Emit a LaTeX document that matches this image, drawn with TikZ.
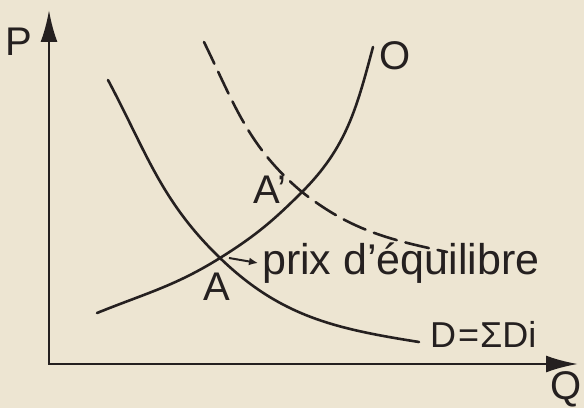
\documentclass[tikz,border=0pt]{standalone}
\usepackage{fontspec}
\setmainfont{Liberation Sans}
\usepackage{tikz}
\usetikzlibrary{arrows.meta, positioning}

\definecolor{paper}{HTML}{EDE5D2}
\definecolor{ink}{HTML}{252020}

\begin{document}
\begin{tikzpicture}[x=1pt, y=1pt, font=\fontsize{40}{44}\selectfont, color=ink]
  \tikzstyle{axis}=[line width=2.6pt, {Latex[length=32pt, width=17pt]}-{Latex[length=32pt, width=17pt]}]
  \tikzstyle{curve}=[line width=2.6pt, line cap=round]
  \tikzstyle{shifted}=[curve, dash pattern=on 24pt off 9pt]
  \tikzstyle{lbl}=[inner sep=0pt, text=ink]

  % background
  \fill[paper] (0,0) rectangle (584,408);
  \useasboundingbox (0,0) rectangle (584,408);

  % axes
  \coordinate (ytip) at (49,398);
  \coordinate (xtip) at (578,44);
  \draw[axis] (ytip) |- (xtip);
  \node[lbl] (plab) at (19,366) {P};
  \node[lbl] (qlab) at (566,19) {Q};

  % equilibrium points
  \coordinate (eqA) at (220,150);
  \coordinate (eqB) at (302,216);

  % supply O
  \coordinate (s0) at (97,95);
  \coordinate (s1) at (373,361);
  \draw[curve] (s0) to[out=22, in=212] (eqA) to[out=32, in=225] (eqB) to[out=45, in=255] (s1);
  \node[lbl] (olab) at (395,352) {O};

  % demand D
  \coordinate (d0) at (108,328);
  \coordinate (d1) at (419,66);
  \draw[curve] (d0) to[out=-62, in=136] (eqA) to[out=-44, in=171] (d1);
  \node[lbl, anchor=west, font=\fontsize{36}{40}\selectfont] (dlab) at (430,74) {D\kern2pt=\kern1ptΣDi};

  % shifted demand (dashed)
  \coordinate (e0) at (204,366);
  \coordinate (e1) at (447,156);
  \draw[shifted] (e0) to[out=-64, in=140] (eqB) to[out=-38, in=168] (e1);

  % labels
  \node[lbl] (alab) at (217,121) {A};
  \node[lbl] (blab) at (270,218) {A’};
  \node[lbl, anchor=west, font=\fontsize{43}{46}\selectfont] (prix) at (262,145) {prix d’équilibre};

  % arrow to text
  \draw[line width=2pt, -{Latex[length=9pt, width=8pt]}] ([xshift=9pt]eqA) -- ([xshift=-4pt]prix.west);

\end{tikzpicture}
\end{document}
